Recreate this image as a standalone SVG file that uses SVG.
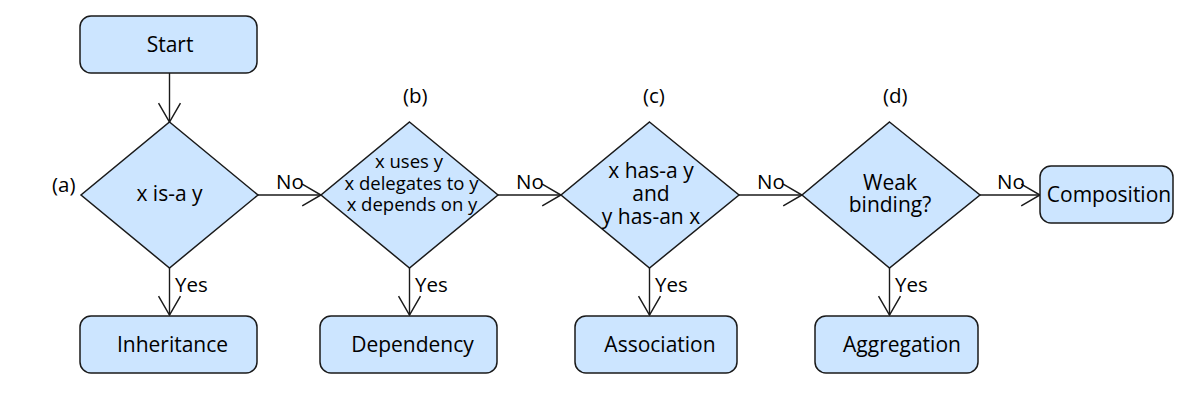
<svg xmlns="http://www.w3.org/2000/svg" width="1202" height="400" viewBox="0 0 1202 400">
<defs>
<marker id="arr" markerUnits="userSpaceOnUse" markerWidth="24" markerHeight="26" viewBox="-21 -12 23 24" refX="0" refY="0" orient="auto">
<path d="M-18,-10.5 L0,0 L-18,10.5" fill="none" stroke="#1a1a1a" stroke-width="1.4"/>
</marker>
</defs>
<style>
.box{fill:#cce5ff;stroke:#1a1a1a;stroke-width:1.5}
.dia{fill:#cce5ff;stroke:#1a1a1a;stroke-width:1.5}
text{font-family:"Open Sans","Noto Sans",sans-serif;fill:#000}
.t{font-size:21px;text-anchor:middle}
.s{font-size:18.5px;text-anchor:middle}
.lbl{font-size:20.5px}
.edge{stroke:#1a1a1a;stroke-width:1.4;fill:none;marker-end:url(#arr)}
</style>
<rect width="1202" height="400" fill="#fff"/>
<g id="connectors">
<line class="edge" x1="169.5" y1="73" x2="169.5" y2="122"/>
<line class="edge" x1="258" y1="195" x2="321" y2="195"/>
<line class="edge" x1="498" y1="195" x2="561" y2="195"/>
<line class="edge" x1="739" y1="195" x2="802" y2="195"/>
<line class="edge" x1="980" y1="195" x2="1040" y2="195"/>
<line class="edge" x1="169.5" y1="268" x2="169.5" y2="315"/>
<line class="edge" x1="409.5" y1="268" x2="409.5" y2="315"/>
<line class="edge" x1="649.5" y1="268" x2="649.5" y2="315"/>
<line class="edge" x1="889.5" y1="268" x2="889.5" y2="315"/>
<text class="lbl" x="276" y="189">No</text>
<text class="lbl" x="516" y="189">No</text>
<text class="lbl" x="757" y="189">No</text>
<text class="lbl" x="997" y="189">No</text>
<text class="lbl" x="175" y="292">Yes</text>
<text class="lbl" x="415" y="292">Yes</text>
<text class="lbl" x="655" y="292">Yes</text>
<text class="lbl" x="895" y="292">Yes</text>
</g>
<g id="start">
<rect class="box" x="80" y="16" width="177" height="57" rx="11"/>
<text class="t" x="170" y="52">Start</text>
</g>
<g id="decision-a">
<polygon class="dia" points="169.5,122 258,195 169.5,268 81,195"/>
<text class="t" x="169.5" y="201">x is-a y</text>
<text class="lbl" x="52" y="192">(a)</text>
</g>
<g id="decision-b">
<polygon class="dia" points="409.5,122 498,195 409.5,268 321,195"/>
<text class="s"><tspan x="409" y="168">x uses y</tspan><tspan x="411.5" y="190">x delegates to y</tspan><tspan x="412" y="211">x depends on y</tspan></text>
<text class="lbl" x="403" y="103">(b)</text>
</g>
<g id="decision-c">
<polygon class="dia" points="649.5,122 739,195 649.5,268 561,195"/>
<text class="t"><tspan x="651" y="178">x has-a y</tspan><tspan x="651" y="201">and</tspan><tspan x="651" y="224">y has-an x</tspan></text>
<text class="lbl" x="643" y="103">(c)</text>
</g>
<g id="decision-d">
<polygon class="dia" points="889.5,122 980,195 889.5,268 802,195"/>
<text class="t"><tspan x="890" y="190">Weak</tspan><tspan x="890" y="212">binding?</tspan></text>
<text class="lbl" x="883" y="103">(d)</text>
</g>
<g id="composition">
<rect class="box" x="1040" y="166" width="133" height="57" rx="11"/>
<text class="t" x="1109" y="202">Composition</text>
</g>
<g id="inheritance">
<rect class="box" x="80" y="316" width="177" height="57" rx="11"/>
<text class="t" x="172.5" y="352">Inheritance</text>
</g>
<g id="dependency">
<rect class="box" x="320" y="316" width="177" height="57" rx="11"/>
<text class="t" x="412.5" y="352">Dependency</text>
</g>
<g id="association">
<rect class="box" x="575" y="316" width="162" height="57" rx="11"/>
<text class="t" x="660" y="352">Association</text>
</g>
<g id="aggregation">
<rect class="box" x="815" y="316" width="163" height="57" rx="11"/>
<text class="t" x="902" y="352">Aggregation</text>
</g>
</svg>
